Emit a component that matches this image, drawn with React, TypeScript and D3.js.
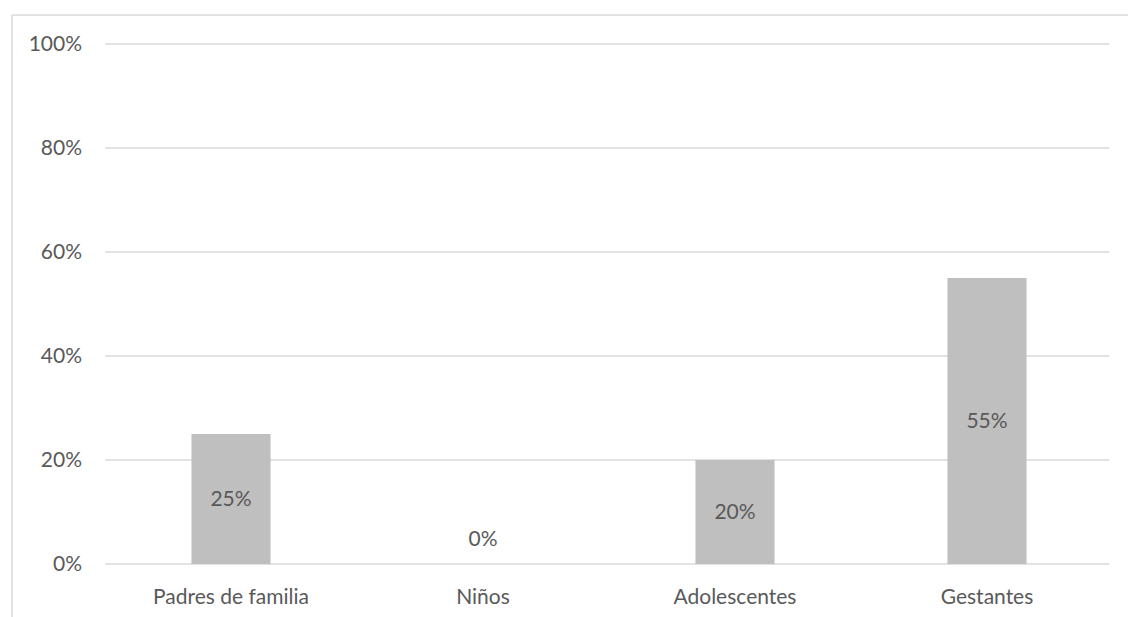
import React from "react";
import * as d3 from "d3";

const categories = ["Padres de familia", "Niños", "Adolescentes", "Gestantes"];
const values = [0.25, 0, 0.2, 0.55];
const yTicks = [0, 0.2, 0.4, 0.6, 0.8, 1.0];

const W = 1128;
const H = 617;
const FONT = "Lato, 'Open Sans', sans-serif";
const FS = 21;
const TEXT = "#595959";

export default function App() {
  const y = d3.scaleLinear().domain([0, 1]).range([564, 44]);
  const x = d3
    .scaleBand<string>()
    .domain(categories)
    .range([105, 1113])
    .paddingInner(0.686)
    .paddingOuter(0.343);
  const fmt = d3.format(".0%");
  const gridX0 = 105;
  const gridX1 = 1109;

  return (
    <svg
      width={W}
      height={H}
      style={{ position: "absolute", left: 0, top: 0, background: "#fff" }}
    >
      <rect x={0} y={0} width={W} height={H} fill="#fff" />
      <line x1={12} y1={15} x2={W} y2={15} stroke="#d9d9d9" strokeWidth={1.5} />
      <line x1={12} y1={15} x2={12} y2={H} stroke="#d9d9d9" strokeWidth={1.5} />
      {yTicks.map((t) => (
        <g key={t}>
          <line
            x1={gridX0}
            x2={gridX1}
            y1={y(t)}
            y2={y(t)}
            stroke="#d9d9d9"
            strokeWidth={1.3}
          />
          <text
            x={82}
            y={y(t)}
            dy="0.35em"
            textAnchor="end"
            fontFamily={FONT}
            fontSize={FS}
            fill={TEXT}
          >
            {fmt(t)}
          </text>
        </g>
      ))}
      {categories.map((c, i) => {
        const v = values[i];
        const bx = x(c) as number;
        const bw = x.bandwidth();
        const top = y(v);
        const mid = (top + y(0)) / 2;
        const ly = Math.min(mid, y(0) - 25);
        return (
          <g key={c}>
            {v > 0 && (
              <rect x={bx} y={top} width={bw} height={y(0) - top} fill="#bfbfbf" />
            )}
            <text
              x={bx + bw / 2}
              y={ly}
              dy="0.35em"
              textAnchor="middle"
              fontFamily={FONT}
              fontSize={FS}
              fill={TEXT}
            >
              {fmt(v)}
            </text>
            <text
              x={bx + bw / 2}
              y={597}
              dy="0.35em"
              textAnchor="middle"
              fontFamily={FONT}
              fontSize={FS}
              fill={TEXT}
            >
              {c}
            </text>
          </g>
        );
      })}
    </svg>
  );
}
